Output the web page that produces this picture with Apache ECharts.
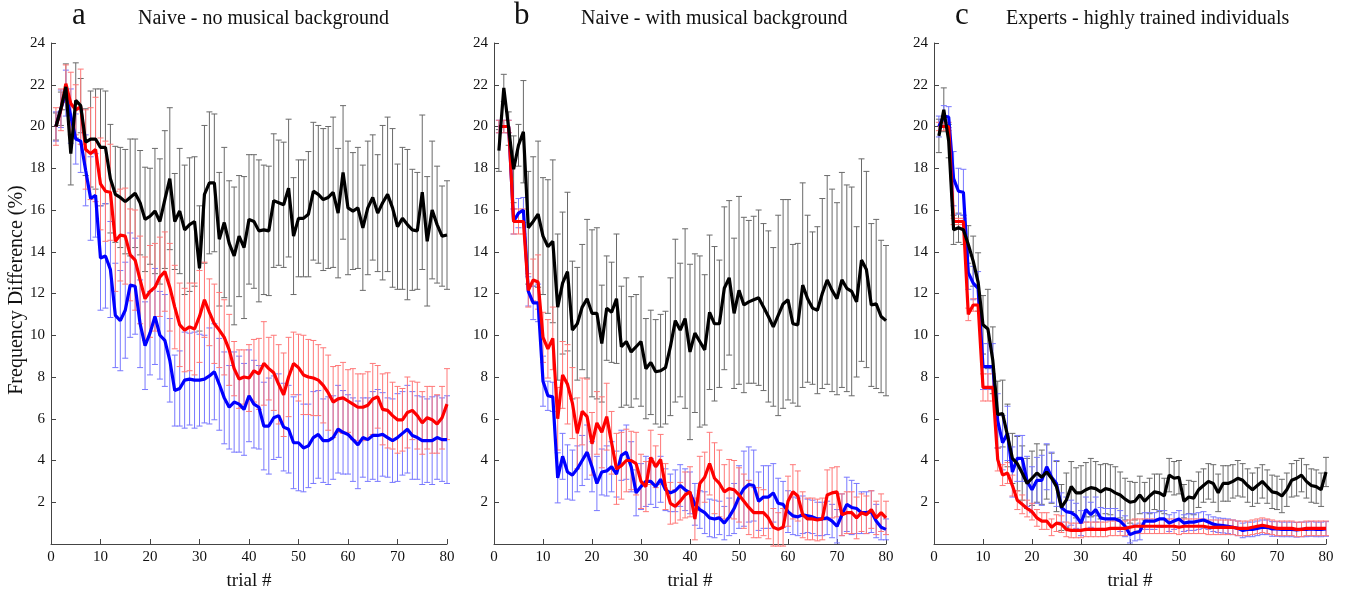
<!DOCTYPE html>
<html>
<head>
<meta charset="utf-8">
<script src="https://cdn.jsdelivr.net/npm/echarts@6/dist/echarts.min.js"></script>
<style>
html, body { margin: 0; background: #fff; }
.EC { width: 1345px; height: 596px; }
</style>
</head>
<body>
<div class="EC"></div>
<script>
// panel a - naive, no musical background
const aBlack = [20.0,20.85,21.9,18.7,21.25,21.0,19.25,19.4,19.4,19.0,19.0,17.5,16.75,16.6,16.4,16.6,16.8,16.35,15.55,15.7,15.95,15.45,16.5,17.5,15.45,15.95,15.05,15.3,15.45,13.2,16.75,17.3,17.3,14.6,15.4,14.4,13.8,14.75,14.2,15.55,15.45,15.0,15.05,15.0,16.45,16.35,16.25,17.05,14.75,15.6,15.6,15.8,16.9,16.75,16.5,16.6,16.85,15.85,17.8,16.1,15.95,16.1,15.15,16.1,16.6,15.85,16.35,16.75,16.1,15.2,15.6,15.3,15.05,15.0,16.85,14.5,16.0,15.3,14.75,14.8]
const aBlackErr = [0.65,0.8,1.1,1.5,1.8,1.3,1.6,2.3,2.4,2.8,2.7,2.6,2.3,2.4,2.5,2.8,2.6,2.5,2.5,2.3,3.0,3.0,3.3,3.4,2.3,3.0,3.1,3.2,3.1,3.0,3.3,3.4,3.3,3.2,3.6,3.0,3.3,2.9,3.4,3.1,3.2,3.4,3.1,3.1,3.2,3.0,3.0,3.3,2.8,2.8,2.8,3.0,3.3,3.3,3.4,3.4,3.6,3.1,3.2,3.2,2.8,2.9,3.0,3.2,3.0,2.8,3.7,3.7,3.8,3.0,3.4,3.6,2.9,2.8,3.7,3.1,3.3,2.8,2.4,2.6]
const aRed = [20.0,20.8,22.05,21.1,20.8,20.95,18.9,18.7,18.9,17.25,16.9,16.85,14.5,14.8,14.75,13.85,13.6,12.65,11.75,12.1,12.3,12.8,13.05,12.3,11.35,10.5,10.25,10.4,10.3,10.9,11.7,11.1,10.55,10.25,9.9,9.3,8.4,7.9,8.0,7.95,8.3,8.15,8.65,8.4,8.2,7.65,7.15,8.0,8.65,8.45,8.1,8.0,7.95,7.85,7.6,7.25,6.8,6.95,7.0,6.85,6.7,6.55,6.55,6.65,6.95,7.05,6.45,6.4,6.15,5.95,5.95,6.3,6.4,6.15,5.8,6.05,5.95,5.75,6.05,6.7]
const aRedErr = [0.9,1.0,0.9,1.5,1.2,1.8,1.9,2.2,2.5,2.2,2.4,2.3,2.4,2.2,2.3,2.2,2.4,2.1,2.0,2.2,2.1,1.9,1.9,2.1,2.0,2.0,2.0,2.1,2.2,2.2,1.8,1.6,1.9,1.8,1.8,1.7,1.3,1.4,1.3,1.6,1.5,1.7,2.0,1.5,1.8,1.9,2.0,1.9,1.5,1.6,1.9,1.8,1.8,1.7,1.8,1.8,1.7,1.6,1.7,1.5,1.7,1.6,1.6,1.6,1.7,1.5,1.7,1.8,1.6,1.6,1.5,1.7,1.4,1.6,1.5,1.5,1.6,1.4,1.5,1.7]
const aBlue = [20.0,20.85,21.6,20.5,19.4,19.3,17.9,16.55,16.7,13.7,13.8,13.15,10.95,10.7,11.2,12.4,12.35,10.55,9.5,10.1,10.9,10.0,9.75,8.8,7.35,7.45,7.85,7.9,7.85,7.85,7.9,8.05,8.25,7.65,7.0,6.55,6.8,6.7,6.45,7.1,6.7,6.55,5.65,5.65,6.05,6.15,5.6,5.5,4.85,4.85,4.6,4.7,5.1,5.25,4.95,4.95,5.1,5.5,5.35,5.25,5.0,4.75,5.1,5.0,5.2,5.2,5.25,5.1,4.95,5.1,5.3,5.5,5.2,5.1,4.95,4.95,4.95,5.1,5.0,5.0]
const aBlueErr = [0.7,0.9,1.1,1.3,1.2,1.5,1.7,2.0,2.0,2.5,2.5,2.3,2.5,2.4,2.3,2.5,2.3,2.1,2.1,2.0,2.3,2.1,2.2,2.0,1.7,1.8,2.3,2.2,2.3,2.2,2.1,2.3,2.3,2.2,2.2,2.0,2.4,2.3,2.2,2.2,2.1,2.0,2.1,2.3,2.0,2.0,2.1,2.1,2.2,2.3,2.1,2.0,2.2,2.1,2.0,2.1,2.0,2.1,2.0,1.9,2.0,2.1,1.9,2.0,2.1,2.2,2.0,1.9,2.0,2.1,2.0,2.1,2.1,2.0,2.1,2.0,2.1,2.0,2.0,2.1]

// panel b - naive, with musical background
const bBlack = [18.85,21.85,19.9,17.95,19.1,19.75,15.15,15.45,15.8,14.75,14.25,14.5,11.35,12.5,13.05,10.25,10.55,11.35,11.75,11.05,11.05,9.6,11.3,11.1,11.75,9.45,9.7,9.2,9.45,9.7,8.4,8.7,8.25,8.3,8.45,9.45,10.7,10.25,10.8,9.2,10.1,9.7,9.3,11.1,10.55,10.55,12.25,12.75,11.05,12.15,11.45,11.6,11.7,11.8,11.35,10.9,10.4,10.95,11.5,11.7,10.55,10.5,12.4,11.75,11.3,11.2,12.0,12.65,12.15,11.75,12.65,12.25,12.1,11.6,13.6,13.15,11.45,11.5,10.9,10.7]
const bBlackErr = [1.0,0.65,0.8,1.6,1.0,2.45,2.7,3.1,3.5,2.8,3.2,3.9,3.5,3.4,3.8,3.3,2.7,3.0,3.8,4.0,4.1,2.8,2.5,2.4,3.1,2.9,3.05,2.65,2.5,3.1,2.4,2.5,2.5,2.7,2.7,3.3,3.9,3.2,4.3,4.2,3.8,4.1,3.6,3.7,3.7,3.05,3.9,3.7,3.6,4.5,4.2,3.9,4.0,4.2,4.0,4.1,3.8,4.8,5.0,4.8,3.8,3.9,4.9,4.0,3.65,4.0,4.55,5.0,4.85,4.6,5.15,4.95,5.0,3.6,4.85,4.7,3.9,4.05,3.65,3.6]
const bRed = [20.0,20.0,20.0,15.45,15.45,15.45,12.15,12.65,12.55,9.9,9.35,9.85,6.0,8.1,7.65,6.75,5.3,6.35,6.1,4.8,5.8,5.35,6.1,4.85,3.6,3.75,4.0,4.0,3.85,3.0,2.75,4.15,3.7,4.05,2.75,1.95,1.8,2.05,2.35,2.5,1.2,2.9,3.2,3.85,3.15,2.9,2.5,2.65,2.6,2.35,2.05,1.75,1.5,1.5,1.5,1.25,0.8,0.7,0.8,2.05,2.5,2.3,1.4,1.2,1.2,1.15,1.2,2.35,2.45,2.5,1.4,1.5,1.5,1.25,1.5,1.4,1.65,1.25,1.5,1.25]
const bRedErr = [0.3,0.3,0.3,0.6,0.6,0.6,0.8,1.0,1.3,1.2,1.4,1.5,1.5,1.6,1.9,1.7,1.7,1.6,1.8,1.5,1.5,1.7,1.6,1.5,1.7,1.6,1.5,1.4,1.5,1.3,1.2,1.3,1.0,1.2,1.1,1.0,0.8,0.9,1.1,1.2,1.0,1.3,1.2,1.5,1.7,1.6,1.3,1.4,1.4,1.3,1.3,1.3,1.2,1.2,1.1,1.0,0.9,0.8,0.9,1.2,1.3,1.2,1.1,1.0,1.0,1.0,1.0,1.2,1.2,1.2,1.0,1.0,1.0,1.0,0.9,0.9,0.9,0.8,0.9,0.8]
const bBlue = [20.0,20.0,20.0,15.45,15.85,16.0,12.1,11.55,11.55,7.8,7.1,7.05,3.17,4.2,3.45,3.3,3.6,4.0,4.4,3.7,2.9,3.45,3.5,3.7,3.35,4.25,4.4,3.7,2.45,2.75,3.0,3.0,2.75,3.1,2.6,2.45,2.55,2.8,2.6,2.45,1.9,1.65,1.5,1.25,1.2,1.25,1.0,1.3,1.7,2.25,2.65,2.85,2.8,2.05,2.25,2.25,2.45,1.95,1.9,1.55,1.35,1.3,1.4,1.35,1.3,1.2,1.2,1.25,1.1,0.85,1.4,1.9,1.75,1.7,1.5,1.5,1.55,1.1,0.8,0.7]
const bBlueErr = [0.3,0.3,0.3,0.6,0.7,0.6,0.7,0.8,0.9,1.2,0.7,0.7,1.2,1.1,1.3,1.2,1.1,1.2,1.3,1.2,1.3,1.1,1.2,1.2,1.1,1.2,1.3,1.2,1.1,1.1,1.2,1.1,1.0,1.1,1.0,0.9,1.0,1.0,1.0,1.0,1.0,0.9,1.0,0.9,0.9,0.8,0.8,0.9,1.2,1.5,1.8,1.8,1.7,1.4,1.5,1.5,1.4,1.2,1.1,1.0,0.9,0.9,0.9,0.8,0.8,0.8,0.8,0.8,0.8,0.8,1.0,1.3,1.3,1.2,1.0,1.0,1.0,0.8,0.6,0.5]

// panel c - experts
const cBlack = [19.55,20.8,19.3,15.05,15.15,15.05,14.35,13.55,12.55,10.5,10.3,8.8,6.2,6.25,5.2,4.1,3.85,3.4,2.9,3.15,3.4,3.2,3.45,3.15,2.75,1.75,2.1,2.75,2.45,2.45,2.6,2.7,2.65,2.5,2.65,2.6,2.45,2.35,2.15,2.0,2.05,2.35,2.05,2.3,2.5,2.45,2.3,3.3,3.15,3.2,2.05,2.25,2.2,2.6,2.8,3.0,2.9,2.45,2.9,2.9,3.0,3.15,3.05,2.8,2.6,2.8,3.0,2.75,2.5,2.45,2.3,2.6,3.05,3.15,3.3,3.0,2.8,2.75,2.6,3.45]
const cBlackErr = [0.8,1.05,0.8,0.7,0.7,0.7,0.9,1.2,1.4,1.4,1.9,1.6,1.6,1.6,1.5,1.2,1.3,1.3,1.2,1.3,1.4,1.3,1.3,1.2,1.2,1.1,1.3,1.2,1.2,1.3,1.3,1.4,1.3,1.3,1.2,1.2,1.25,1.1,1.0,1.0,0.9,0.9,0.9,0.85,0.85,0.9,0.85,0.8,0.8,0.8,0.8,0.8,0.8,0.85,0.8,0.85,0.9,0.9,0.85,0.85,0.8,0.85,0.8,0.8,0.8,0.85,0.8,0.8,0.8,0.8,0.8,0.8,0.8,0.85,0.8,0.8,0.8,0.8,0.8,0.7]
const cRed = [20.0,20.0,20.0,15.45,15.45,15.45,11.0,11.45,11.45,7.5,7.5,7.5,4.05,3.3,3.4,2.8,2.1,1.9,1.7,1.55,1.25,1.1,1.1,0.8,1.0,0.95,0.7,0.65,0.65,0.65,0.7,0.7,0.7,0.7,0.7,0.75,0.75,0.75,0.75,0.8,0.85,0.85,0.85,0.85,0.85,0.85,0.85,0.85,0.85,0.8,0.85,0.85,0.85,0.85,0.85,0.8,0.8,0.8,0.8,0.8,0.8,0.75,0.75,0.75,0.8,0.85,0.9,0.85,0.8,0.75,0.75,0.75,0.75,0.7,0.7,0.75,0.75,0.75,0.75,0.75]
const cRedErr = [0.2,0.2,0.2,0.15,0.15,0.15,0.3,0.3,0.3,0.65,0.65,0.65,0.55,0.5,0.5,0.5,0.45,0.45,0.4,0.4,0.4,0.4,0.4,0.4,0.4,0.4,0.35,0.35,0.35,0.35,0.35,0.35,0.35,0.35,0.35,0.35,0.35,0.35,0.35,0.35,0.35,0.35,0.35,0.35,0.35,0.35,0.35,0.35,0.35,0.35,0.35,0.35,0.35,0.35,0.35,0.35,0.35,0.35,0.35,0.35,0.35,0.35,0.35,0.35,0.35,0.35,0.35,0.35,0.35,0.35,0.35,0.35,0.35,0.35,0.35,0.35,0.35,0.35,0.35,0.35]
const cBlue = [20.0,20.5,20.45,17.5,16.9,16.85,13.0,12.5,12.25,8.5,8.5,8.5,5.9,4.85,5.3,3.45,4.1,4.1,3.0,2.6,3.05,3.05,3.7,3.2,2.9,1.75,1.55,1.5,1.35,1.0,1.65,1.4,1.65,1.25,1.2,1.2,1.2,1.1,0.85,0.45,0.55,0.6,1.1,1.1,1.1,1.2,1.2,1.0,1.1,1.2,1.0,1.05,1.05,1.1,1.15,1.05,0.95,0.9,0.88,0.85,0.8,0.75,0.65,0.7,0.7,0.75,0.8,0.8,0.72,0.72,0.7,0.7,0.7,0.68,0.7,0.7,0.72,0.7,0.7,0.72]
const cBlueErr = [0.5,0.5,0.5,1.3,1.1,1.1,0.8,0.8,0.8,1.1,1.1,1.1,1.3,1.3,1.3,1.2,1.1,1.1,1.2,1.1,1.1,1.2,1.1,1.2,1.1,0.7,0.7,0.6,0.6,0.6,0.6,0.6,0.6,0.5,0.5,0.5,0.5,0.5,0.5,0.4,0.4,0.4,0.4,0.4,0.4,0.4,0.4,0.4,0.4,0.4,0.4,0.4,0.4,0.4,0.4,0.35,0.35,0.35,0.35,0.35,0.35,0.35,0.35,0.35,0.35,0.35,0.35,0.35,0.35,0.35,0.35,0.35,0.35,0.35,0.35,0.35,0.35,0.35,0.35,0.35]

const panelLetters = ['a', 'b', 'c']
const panelTitles = ['Naive - no musical background', 'Naive - with musical background', 'Experts - highly trained individuals']
const yName = 'Frequency Difference (%)'
const xName = 'trial #'

window.onload = () => {
    let EC = echarts.init(document.querySelector('.EC'))
    const font = '"Liberation Serif", "Times New Roman", serif'

    const panels = [
        { mean: [aBlack, aRed, aBlue], err: [aBlackErr, aRedErr, aBlueErr] },
        { mean: [bBlack, bRed, bBlue], err: [bBlackErr, bRedErr, bBlueErr] },
        { mean: [cBlack, cRed, cBlue], err: [cBlackErr, cRedErr, cBlueErr] }
    ]
    const lineColors = ['#000000', '#ff0000', '#0000ff']
    const barColors = ['#6a6a6a', '#ff7878', '#7878ff']

    const grids = [
        { left: 51, right: 898, top: 43, bottom: 43 },
        { left: 494, right: 459, top: 43, bottom: 43 },
        { left: 934, right: 19, top: 43, bottom: 43 }
    ]
    const titleLeft = [[72, 138], [514, 581], [955, 1006]]

    // vertical bar with two caps
    const errRender = (params, api) => {
        const x = api.value(0)
        const top = api.coord([x, api.value(2)])
        const bot = api.coord([x, api.value(1)])
        const w = 3
        const style = { stroke: api.visual('color'), lineWidth: 1 }
        return {
            type: 'group',
            children: [
                { type: 'line', shape: { x1: top[0], y1: top[1], x2: bot[0], y2: bot[1] }, style: style },
                { type: 'line', shape: { x1: top[0] - w, y1: top[1], x2: top[0] + w, y2: top[1] }, style: style },
                { type: 'line', shape: { x1: bot[0] - w, y1: bot[1], x2: bot[0] + w, y2: bot[1] }, style: style }
            ]
        }
    }

    let xAxes = [], yAxes = [], series = [], titles = []
    panels.forEach((p, k) => {
        xAxes.push({
            gridIndex: k, type: 'value', min: 0, max: 80, interval: 10,
            name: xName, nameLocation: 'middle', nameGap: 28,
            nameTextStyle: { fontFamily: font, fontSize: 19, color: '#111' },
            axisLine: { lineStyle: { color: '#444', width: 1 } },
            axisTick: { inside: true, length: 5, lineStyle: { color: '#444' } },
            axisLabel: { fontFamily: font, fontSize: 15, color: '#111', margin: 6 },
            splitLine: { show: false }
        })
        yAxes.push({
            gridIndex: k, type: 'value', min: 0, max: 24, interval: 2,
            axisLine: { show: true, lineStyle: { color: '#444', width: 1 } },
            axisTick: { show: true, inside: true, length: 5, lineStyle: { color: '#444' } },
            axisLabel: { fontFamily: font, fontSize: 15, color: '#111', margin: 6, showMinLabel: false },
            splitLine: { show: false }
        })
        // error bars first: black, blue, red
        ;[0, 2, 1].forEach(j => {
            series.push({
                type: 'custom', xAxisIndex: k, yAxisIndex: k,
                renderItem: errRender,
                itemStyle: { color: barColors[j] },
                encode: { x: 0, y: [1, 2] },
                silent: true,
                data: p.mean[j].map((v, i) => [i + 1, v - p.err[j][i], v + p.err[j][i]])
            })
        })
        // lines on top: blue, red, black
        ;[2, 1, 0].forEach(j => {
            series.push({
                type: 'line', xAxisIndex: k, yAxisIndex: k,
                showSymbol: false, symbol: 'none',
                lineStyle: { color: lineColors[j], width: 3.2 },
                silent: true,
                data: p.mean[j].map((v, i) => [i + 1, v])
            })
        })
        titles.push({
            text: panelLetters[k], left: titleLeft[k][0], top: 0, padding: 0,
            textStyle: { fontFamily: font, fontSize: 31, fontWeight: 'normal', color: '#111' }
        })
        titles.push({
            text: panelTitles[k], left: titleLeft[k][1], top: 9, padding: 0,
            textStyle: { fontFamily: font, fontSize: 20, fontWeight: 'normal', color: '#111' }
        })
    })

    let option = {
        backgroundColor: '#fff',
        animation: false,
        title: titles,
        grid: grids,
        xAxis: xAxes,
        yAxis: yAxes,
        series: series,
        graphic: [{
            type: 'text', x: 17, y: 290, rotation: Math.PI / 2,
            style: {
                text: yName, fontFamily: font, fontSize: 20, fill: '#111',
                align: 'center', verticalAlign: 'middle'
            }
        }]
    }
    EC.setOption(option)
}
</script>
</body>
</html>
